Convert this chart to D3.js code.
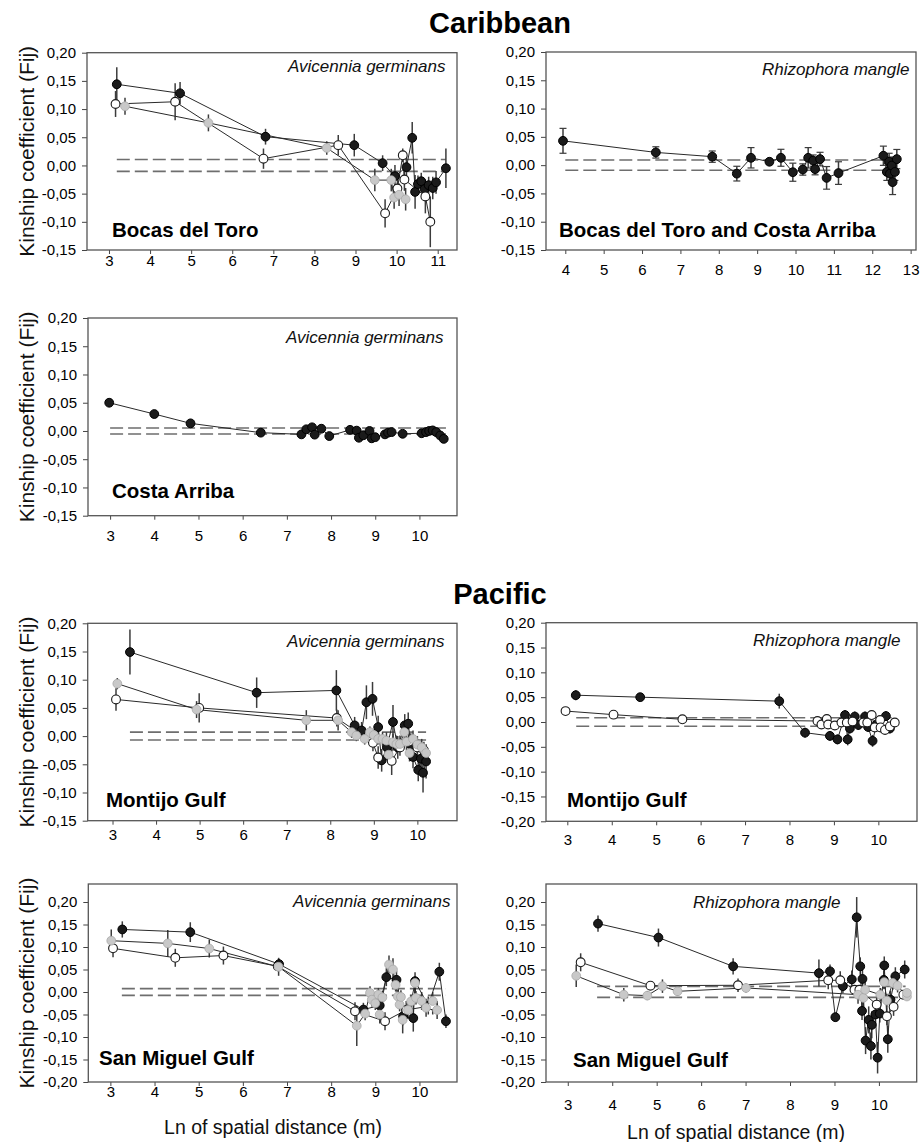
<!DOCTYPE html>
<html>
<head>
<meta charset="utf-8">
<script src="https://cdn.jsdelivr.net/npm/d3@7"></script>
<style>
body { margin: 0; background: #fff; }
text { font-family: "Liberation Sans", Arial, sans-serif; }
</style>
</head>
<body>
<svg id="fig" width="921" height="1142"></svg>
<script>
// ---- data: [ln distance, Fij, error] ----
bocasAvBlack = [[3.19,0.144,0.03],[4.73,0.128,0.02],[6.81,0.051,0.014],[8.97,0.036,0.02],[9.66,0.004,0.014],[9.96,-0.019,0.02],[10.24,-0.003,0.02],[10.38,0.049,0.028],[10.45,-0.047,0.03],[10.52,-0.033,0.015],[10.6,-0.028,0.015],[10.68,-0.042,0.015],[10.78,-0.035,0.015],[10.88,-0.04,0.02],[10.96,-0.03,0.02],[11.2,-0.005,0.035]]
bocasAvWhite = [[3.16,0.109,0.023],[4.61,0.113,0.033],[6.76,0.012,0.018],[8.58,0.036,0.018],[9.72,-0.085,0.025],[10.02,-0.041,0.02],[10.15,0.018,0.012],[10.19,-0.025,0.02],[10.7,-0.055,0.03],[10.82,-0.1,0.045]]
bocasAvGray = [[3.39,0.105,0.015],[5.42,0.0755,0.015],[8.30,0.031,0.012],[9.47,-0.026,0.02],[9.87,-0.026,0.02],[9.94,-0.057,0.02],[10.06,-0.052,0.02],[10.22,-0.06,0.02]]

bocasCostaRhBlack = [[3.94,0.043,0.022],[6.36,0.0225,0.01],[7.83,0.015,0.01],[8.47,-0.015,0.013],[8.84,0.013,0.018],[9.32,0.006,0.005],[9.62,0.013,0.015],[9.93,-0.0125,0.016],[10.19,-0.0077,0.01],[10.33,0.013,0.018],[10.46,0.008,0.01],[10.51,-0.0071,0.01],[10.64,0.0107,0.012],[10.81,-0.0225,0.02],[11.12,-0.014,0.02],[12.29,0.0166,0.017],[12.38,-0.012,0.015],[12.44,0.006,0.015],[12.46,-0.015,0.012],[12.51,-0.0006,0.015],[12.53,-0.030,0.022],[12.59,-0.012,0.015],[12.64,0.0107,0.017]]

costaAvBlack = [[2.98,0.05,0],[4.0,0.030,0],[4.82,0.0135,0],[6.41,-0.003,0],[7.33,-0.006,0],[7.44,0.003,0],[7.57,0.0065,0],[7.63,-0.0065,0],[7.78,0.004,0],[7.96,-0.009,0],[8.43,0.002,0],[8.58,0.0006,0],[8.63,-0.012,0],[8.73,-0.0076,0],[8.87,0.0,0],[8.92,-0.013,0],[9.0,-0.011,0],[9.22,-0.006,0],[9.29,-0.003,0],[9.37,-0.002,0],[9.62,-0.005,0],[10.05,-0.004,0],[10.15,-0.002,0],[10.22,0.0,0],[10.3,0.001,0],[10.38,-0.002,0],[10.47,-0.008,0],[10.55,-0.014,0]]

montijoAvBlack = [[3.40,0.149,0.04],[6.31,0.077,0.027],[8.14,0.081,0.036],[8.56,0.019,0.015],[8.72,0.010,0.015],[8.83,0.060,0.03],[8.97,0.066,0.03],[9.10,0.016,0.02],[9.18,-0.043,0.02],[9.3,-0.02,0.02],[9.44,0.025,0.03],[9.55,-0.02,0.02],[9.71,0.019,0.02],[9.79,0.022,0.02],[9.85,-0.015,0.02],[9.9,-0.037,0.02],[10.02,-0.06,0.02],[10.08,-0.04,0.03],[10.13,-0.065,0.035],[10.2,-0.045,0.03]]
montijoAvWhite = [[3.08,0.065,0.02],[4.99,0.05,0.026],[8.15,0.032,0.015],[8.98,-0.012,0.015],[9.10,-0.038,0.02],[9.41,-0.044,0.025],[9.6,-0.02,0.015],[9.8,-0.01,0.015],[10.0,-0.02,0.015],[10.15,-0.025,0.015]]
montijoAvGray = [[3.11,0.093,0.01],[4.93,0.047,0.015],[7.45,0.028,0.018],[8.18,0.028,0.018],[8.49,0.007,0.01],[8.60,0.001,0.01],[8.79,-0.005,0.01],[8.91,0.007,0.01],[9.0,0.002,0.01],[9.1,-0.005,0.01],[9.2,-0.005,0.012],[9.29,-0.008,0.015],[9.34,-0.033,0.015],[9.44,-0.011,0.015],[9.52,-0.014,0.015],[9.6,-0.014,0.015],[9.7,0.007,0.015],[9.75,-0.01,0.015],[9.82,-0.03,0.015],[9.9,-0.005,0.015],[10.0,-0.015,0.015],[10.1,-0.02,0.015],[10.2,-0.03,0.015]]

montijoRhBlack = [[3.19,0.054,0.01],[4.64,0.05,0.008],[7.77,0.042,0.015],[8.35,-0.0215,0.01],[8.91,-0.028,0.01],[9.08,-0.035,0.01],[9.25,0.014,0.01],[9.31,-0.035,0.012],[9.36,-0.013,0.01],[9.47,0.011,0.01],[9.55,-0.006,0.01],[9.7,0.011,0.01],[9.77,-0.01,0.01],[9.87,-0.038,0.012],[9.96,-0.005,0.01],[10.17,0.012,0.01],[10.26,-0.013,0.01]]
montijoRhWhite = [[2.96,0.022,0],[4.04,0.0148,0],[5.59,0.0054,0],[8.63,0.002,0],[8.72,-0.005,0],[8.84,0.006,0],[8.87,-0.005,0],[9.02,-0.007,0],[9.17,-0.001,0],[9.29,-0.001,0],[9.42,0.001,0],[9.66,-0.001,0],[9.75,-0.001,0],[9.85,0.014,0],[9.92,-0.011,0],[10.04,0.004,0],[10.05,-0.011,0],[10.15,-0.016,0],[10.26,-0.009,0],[10.37,-0.001,0]]

sanMiguelAvBlack = [[3.27,0.139,0.018],[4.81,0.133,0.022],[6.82,0.062,0.012],[8.73,-0.039,0.015],[9.10,-0.03,0.015],[9.25,0.033,0.02],[9.48,0.027,0.02],[9.63,-0.054,0.02],[9.86,-0.058,0.03],[9.9,0.024,0.02],[10.2,-0.03,0.02],[10.45,0.045,0.02],[10.6,-0.065,0.015]]
sanMiguelAvWhite = [[3.06,0.097,0.02],[4.47,0.076,0.02],[5.56,0.081,0.02],[6.79,0.057,0.01],[8.54,-0.043,0.02],[9.22,-0.065,0.02],[9.7,-0.04,0.02],[10.3,-0.03,0.02]]
sanMiguelAvGray = [[3.02,0.114,0.025],[4.30,0.108,0.03],[5.24,0.0966,0.02],[6.81,0.056,0.02],[8.58,-0.075,0.045],[8.77,-0.048,0.015],[8.88,-0.002,0.015],[8.92,-0.017,0.015],[9.0,-0.025,0.015],[9.07,-0.006,0.015],[9.1,-0.05,0.02],[9.16,-0.012,0.015],[9.31,0.061,0.02],[9.4,0.05,0.025],[9.46,0.016,0.015],[9.51,-0.01,0.015],[9.55,-0.028,0.015],[9.58,-0.011,0.015],[9.62,-0.062,0.03],[9.74,-0.04,0.02],[9.81,-0.021,0.015],[9.9,0.02,0.015],[9.92,-0.013,0.015],[10.05,-0.02,0.02],[10.15,-0.035,0.02],[10.3,-0.02,0.02],[10.4,-0.04,0.02]]

sanMiguelRhBlack = [[3.68,0.152,0.018],[5.04,0.121,0.02],[6.72,0.057,0.018],[8.65,0.042,0.03],[8.90,0.046,0.015],[9.02,-0.056,0.01],[9.19,0.013,0.015],[9.39,0.028,0.02],[9.50,0.166,0.045],[9.58,0.057,0.02],[9.62,-0.042,0.02],[9.63,0.029,0.02],[9.70,-0.108,0.03],[9.77,-0.062,0.03],[9.82,-0.12,0.03],[9.84,-0.073,0.03],[9.92,-0.05,0.02],[9.97,-0.146,0.035],[10.02,-0.048,0.02],[10.11,0.027,0.02],[10.12,0.059,0.02],[10.2,-0.105,0.03],[10.26,-0.017,0.02],[10.37,0.035,0.02],[10.58,0.05,0.02]]
sanMiguelRhWhite = [[3.29,0.066,0.02],[4.86,0.014,0],[6.83,0.015,0.015],[8.86,0.026,0.02],[9.13,0.026,0.02],[9.45,0.005,0],[9.56,0.005,0],[9.95,-0.028,0.02],[10.18,-0.054,0.02],[10.33,-0.033,0.02],[10.55,-0.006,0]]
sanMiguelRhGray = [[3.19,0.036,0.025],[4.26,-0.006,0.015],[4.79,-0.008,0.01],[5.13,0.013,0.015],[5.47,0.0015,0.01],[7.01,0.009,0.01],[9.53,-0.006,0.02],[9.65,-0.013,0.02],[9.69,0.005,0.02],[10.03,-0.006,0.015],[10.12,0.022,0.015],[10.18,-0.019,0.015],[10.31,0.02,0.015],[10.42,0.014,0.015],[10.63,-0.01,0],[10.63,-0.002,0]]

// 95% envelope of the null hypothesis: [x from, x to, lower, upper]
bocasAvEnvelope = [3.19, 11.2, -0.0105, 0.0105]
bocasCostaRhEnvelope = [4.0, 12.6, -0.009, 0.009]
costaAvEnvelope = [3.0, 10.6, -0.0053, 0.0053]
montijoAvEnvelope = [3.4, 10.2, -0.007, 0.007]
montijoRhEnvelope = [3.2, 10.3, -0.0085, 0.0085]
sanMiguelAvEnvelope = [3.26, 10.6, -0.0075, 0.0075]
sanMiguelRhEnvelope = [3.66, 10.6, -0.012, 0.0125]

yTicks15 = [-0.15,-0.10,-0.05,0,0.05,0.10,0.15,0.20]
yTicks20 = [-0.20,-0.15,-0.10,-0.05,0,0.05,0.10,0.15,0.20]
xTicks3to11 = [3,4,5,6,7,8,9,10,11]
xTicks4to13 = [4,5,6,7,8,9,10,11,12,13]
xTicks3to10 = [3,4,5,6,7,8,9,10]

styles = {
  black: {fill: "#1b1b1b", stroke: "#000", sw: 1},
  white: {fill: "#ffffff", stroke: "#1b1b1b", sw: 1.1},
  gray: {fill: "#c8c8c8", stroke: "#a8a8a8", sw: 0.8}
}

panels = [
  {left: 87, right: 457, top: 52.7, bottom: 250, xDomain: [2.465, 11.47], yDomain: [-0.15, 0.20], xTicks: xTicks3to11, yTicks: yTicks15,
   xLabelGap: 16, species: "Avicennia germinans", spX: 288, spY: 72, site: "Bocas del Toro", siteX: 112, siteY: 237, caps: false,
   series: [["black", bocasAvBlack], ["white", bocasAvWhite], ["gray", bocasAvGray]], envelope: bocasAvEnvelope, yTitle: true},
  {left: 546, right: 916, top: 52, bottom: 250, xDomain: [3.497, 13.14], yDomain: [-0.15, 0.20], xTicks: xTicks4to13, yTicks: yTicks15,
   xLabelGap: 25, species: "Rhizophora mangle", spX: 762, spY: 75, site: "Bocas del Toro and Costa Arriba", siteX: 559, siteY: 237, caps: true,
   series: [["black", bocasCostaRhBlack]], envelope: bocasCostaRhEnvelope, yTitle: false},
  {left: 88, right: 457, top: 318, bottom: 515.7, xDomain: [2.5, 10.85], yDomain: [-0.15, 0.20], xTicks: xTicks3to10, yTicks: yTicks15,
   xLabelGap: 25, species: "Avicennia germinans", spX: 286, spY: 343, site: "Costa Arriba", siteX: 112, siteY: 498, caps: false,
   series: [["black", costaAvBlack]], envelope: costaAvEnvelope, yTitle: true},
  {left: 87.7, right: 457, top: 623.3, bottom: 820.7, xDomain: [2.43, 10.91], yDomain: [-0.15, 0.20], xTicks: xTicks3to10, yTicks: yTicks15,
   xLabelGap: 19, species: "Avicennia germinans", spX: 287, spY: 647, site: "Montijo Gulf", siteX: 106, siteY: 807, caps: false,
   series: [["black", montijoAvBlack], ["white", montijoAvWhite], ["gray", montijoAvGray]], envelope: montijoAvEnvelope, yTitle: true},
  {left: 546, right: 917, top: 622.7, bottom: 821.3, xDomain: [2.52, 10.87], yDomain: [-0.20, 0.20], xTicks: xTicks3to10, yTicks: yTicks20,
   xLabelGap: 24, species: "Rhizophora mangle", spX: 753, spY: 646, site: "Montijo Gulf", siteX: 567, siteY: 807, caps: false,
   series: [["black", montijoRhBlack], ["white", montijoRhWhite]], envelope: montijoRhEnvelope, yTitle: false},
  {left: 88.3, right: 457, top: 884, bottom: 1082, xDomain: [2.5, 10.85], yDomain: [-0.20, 0.24], xTicks: xTicks3to10, yTicks: yTicks20,
   xLabelGap: 15, species: "Avicennia germinans", spX: 293, spY: 907, site: "San Miguel Gulf", siteX: 99, siteY: 1065, caps: false,
   series: [["black", sanMiguelAvBlack], ["white", sanMiguelAvWhite], ["gray", sanMiguelAvGray]], envelope: sanMiguelAvEnvelope, yTitle: true,
   xTitleY: 1134, xTitleX: 273},
  {left: 546, right: 916.7, top: 884, bottom: 1082, xDomain: [2.51, 10.85], yDomain: [-0.20, 0.24], xTicks: xTicks3to10, yTicks: yTicks20,
   xLabelGap: 28, species: "Rhizophora mangle", spX: 693, spY: 908, site: "San Miguel Gulf", siteX: 573, siteY: 1067, caps: false,
   series: [["black", sanMiguelRhBlack], ["white", sanMiguelRhWhite], ["gray", sanMiguelRhGray]], envelope: sanMiguelRhEnvelope, yTitle: false,
   xTitleY: 1139, xTitleX: 736}
]

svg = d3.select("#fig")

function fmtY(d){
  return d.toFixed(2).replace(".", ",");
}

function drawPanel(p){
  let x = d3.scaleLinear().domain(p.xDomain).range([p.left, p.right]);
  let y = d3.scaleLinear().domain(p.yDomain).range([p.bottom, p.top]);
  let g = svg.append("g");

  // axes (ticks outward, the box is drawn separately)
  let yAxis = d3.axisLeft(y).tickValues(p.yTicks).tickSize(5).tickPadding(6).tickFormat(fmtY);
  let ya = g.append("g").attr("transform", "translate(" + p.left + ",0)").call(yAxis);
  let xAxis = d3.axisBottom(x).tickValues(p.xTicks).tickSize(4).tickPadding(p.xLabelGap - 4 - 10.6).tickFormat(d3.format("d"));
  let xa = g.append("g").attr("transform", "translate(0," + p.bottom + ")").call(xAxis);
  [ya, xa].forEach(a => {
    a.select(".domain").remove();
    a.selectAll("line").attr("stroke", "#444").attr("stroke-width", 1);
    a.selectAll("text").attr("font-size", 15).attr("fill", "#000")
      .style("font-family", '"Liberation Sans", Arial, sans-serif');
  });

  // envelope
  let env = p.envelope;
  [env[2], env[3]].forEach(v => {
    g.append("line")
      .attr("x1", x(env[0])).attr("x2", x(env[1]))
      .attr("y1", y(v)).attr("y2", y(v))
      .attr("stroke", "#6e6e6e").attr("stroke-width", 1.6)
      .attr("stroke-dasharray", "13,5");
  });

  // error bars and connecting lines
  let line = d3.line().x(d => x(d[0])).y(d => y(d[1]));
  p.series.forEach(s => {
    let data = s[1];
    g.selectAll(null).data(data.filter(d => d[2] > 0)).enter()
      .append("line")
      .attr("x1", d => x(d[0])).attr("x2", d => x(d[0]))
      .attr("y1", d => y(d[1] - d[2])).attr("y2", d => y(d[1] + d[2]))
      .attr("stroke", "#3c3c3c").attr("stroke-width", 1.5);
    if(p.caps){
      [-1, 1].forEach(sign => {
        g.selectAll(null).data(data.filter(d => d[2] > 0)).enter()
          .append("line")
          .attr("x1", d => x(d[0]) - 3.5).attr("x2", d => x(d[0]) + 3.5)
          .attr("y1", d => y(d[1] + sign * d[2])).attr("y2", d => y(d[1] + sign * d[2]))
          .attr("stroke", "#3c3c3c").attr("stroke-width", 1.2);
      });
    }
  });
  p.series.forEach(s => {
    let data = s[1].slice().sort((a, b) => a[0] - b[0]);
    g.append("path").datum(data)
      .attr("d", line)
      .attr("fill", "none")
      .attr("stroke", "#2a2a2a")
      .attr("stroke-width", 1);
  });

  // points
  p.series.forEach(s => {
    let st = styles[s[0]];
    g.selectAll(null).data(s[1]).enter()
      .append("circle")
      .attr("cx", d => x(d[0])).attr("cy", d => y(d[1]))
      .attr("r", 4.4)
      .attr("fill", st.fill).attr("stroke", st.stroke).attr("stroke-width", st.sw);
  });

  // frame
  g.append("rect")
    .attr("x", p.left).attr("y", p.top)
    .attr("width", p.right - p.left).attr("height", p.bottom - p.top)
    .attr("fill", "none").attr("stroke", "#555").attr("stroke-width", 1.3);

  g.append("text")
    .attr("x", p.spX).attr("y", p.spY)
    .attr("font-size", 17).attr("font-style", "italic").attr("fill", "#111")
    .text(p.species);
  g.append("text")
    .attr("x", p.siteX).attr("y", p.siteY)
    .attr("font-size", 20.5).attr("font-weight", "bold").attr("fill", "#000")
    .text(p.site);

  if(p.yTitle){
    g.append("text")
      .attr("transform", "translate(34," + ((p.top + p.bottom) / 2) + ") rotate(-90)")
      .attr("text-anchor", "middle")
      .attr("font-size", 21).attr("fill", "#111")
      .text("Kinship coefficient (Fij)");
  }
  if(p.xTitleY){
    g.append("text")
      .attr("x", p.xTitleX).attr("y", p.xTitleY)
      .attr("text-anchor", "middle")
      .attr("font-size", 19.5).attr("fill", "#111")
      .text("Ln of spatial distance (m)");
  }
}

panels.forEach(drawPanel);

svg.append("text").attr("x", 500).attr("y", 33).attr("text-anchor", "middle")
  .attr("font-size", 29).attr("font-weight", "bold").text("Caribbean");
svg.append("text").attr("x", 500).attr("y", 604).attr("text-anchor", "middle")
  .attr("font-size", 29).attr("font-weight", "bold").text("Pacific");
</script>
</body>
</html>
